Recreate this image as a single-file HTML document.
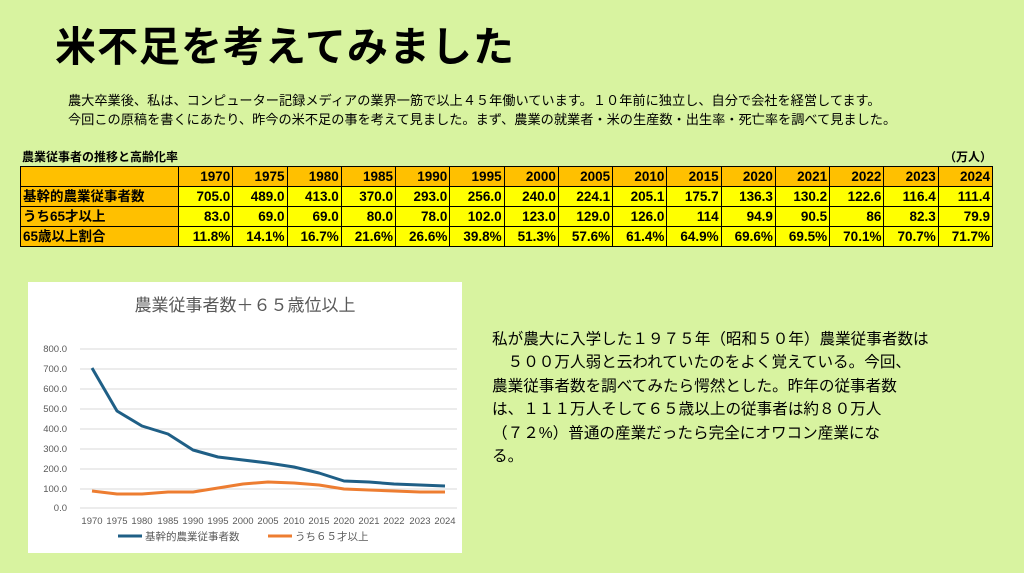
<!DOCTYPE html>
<html><head><meta charset="utf-8"><style>
body{margin:0;width:1024px;height:573px;background:#d8f3a0;font-family:"Liberation Sans","Noto Sans CJK JP",sans-serif;position:relative;overflow:hidden}
.t{position:absolute;white-space:nowrap}
table{position:absolute;left:20px;top:166px;width:973px;table-layout:fixed;border-collapse:collapse;font-weight:bold;font-size:13.5px}
td{border:1.5px solid #000;height:19px;line-height:19px;padding:0 2px;text-align:right;background:#ffff00;overflow:hidden;white-space:nowrap}
td.h{background:#ffc000;text-align:left}
tr.hd td{background:#ffc000;text-align:right}
</style></head><body>
<div class="t" style="left:55px;top:13px;font-size:41px;font-weight:bold;letter-spacing:1px">米不足を考えてみました</div>
<div class="t" style="left:68px;top:91px;font-size:13.2px;line-height:19px">農大卒業後、私は、コンピューター記録メディアの業界一筋で以上４５年働いています。１０年前に独立し、自分で会社を経営してます。<br>今回この原稿を書くにあたり、昨今の米不足の事を考えて見ました。まず、農業の就業者・米の生産数・出生率・死亡率を調べて見ました。</div>
<div class="t" style="left:22px;top:148px;font-size:12px;font-weight:bold">農業従事者の推移と高齢化率</div>
<div class="t" style="left:944px;top:148px;font-size:12px;font-weight:bold">（万人）</div>
<table>
<colgroup><col style="width:158px"><col span="15"></colgroup>
<tr class="hd"><td class="h"></td><td>1970</td><td>1975</td><td>1980</td><td>1985</td><td>1990</td><td>1995</td><td>2000</td><td>2005</td><td>2010</td><td>2015</td><td>2020</td><td>2021</td><td>2022</td><td>2023</td><td>2024</td></tr>
<tr><td class="h">基幹的農業従事者数</td><td>705.0</td><td>489.0</td><td>413.0</td><td>370.0</td><td>293.0</td><td>256.0</td><td>240.0</td><td>224.1</td><td>205.1</td><td>175.7</td><td>136.3</td><td>130.2</td><td>122.6</td><td>116.4</td><td>111.4</td></tr>
<tr><td class="h">うち65才以上</td><td>83.0</td><td>69.0</td><td>69.0</td><td>80.0</td><td>78.0</td><td>102.0</td><td>123.0</td><td>129.0</td><td>126.0</td><td>114</td><td>94.9</td><td>90.5</td><td>86</td><td>82.3</td><td>79.9</td></tr>
<tr><td class="h">65歳以上割合</td><td>11.8%</td><td>14.1%</td><td>16.7%</td><td>21.6%</td><td>26.6%</td><td>39.8%</td><td>51.3%</td><td>57.6%</td><td>61.4%</td><td>64.9%</td><td>69.6%</td><td>69.5%</td><td>70.1%</td><td>70.7%</td><td>71.7%</td></tr>
</table>
<svg style="position:absolute;left:0;top:0" width="1024" height="573">
<rect x="28" y="282" width="434" height="271" fill="#fff"/>
<text x="245" y="311" font-size="17" fill="#595959" text-anchor="middle" font-family="Liberation Sans,Noto Sans CJK JP,sans-serif">農業従事者数＋６５歳位以上</text>
<g stroke="#d9d9d9" stroke-width="1">
<line x1="80" x2="457" y1="349" y2="349"/><line x1="80" x2="457" y1="369" y2="369"/><line x1="80" x2="457" y1="389" y2="389"/><line x1="80" x2="457" y1="409" y2="409"/><line x1="80" x2="457" y1="429" y2="429"/><line x1="80" x2="457" y1="449" y2="449"/><line x1="80" x2="457" y1="469" y2="469"/><line x1="80" x2="457" y1="489" y2="489"/><line x1="80" x2="457" y1="508" y2="508"/>
</g>
<g font-size="9.5" fill="#595959" text-anchor="end" font-family="Liberation Sans,sans-serif">
<text x="67" y="352">800.0</text><text x="67" y="372">700.0</text><text x="67" y="392">600.0</text><text x="67" y="412">500.0</text><text x="67" y="432">400.0</text><text x="67" y="452">300.0</text><text x="67" y="472">200.0</text><text x="67" y="492">100.0</text><text x="67" y="511">0.0</text>
</g>
<g font-size="9.5" fill="#595959" text-anchor="middle" font-family="Liberation Sans,sans-serif">
<text x="92" y="524">1970</text><text x="117" y="524">1975</text><text x="142" y="524">1980</text><text x="168" y="524">1985</text><text x="193" y="524">1990</text><text x="218" y="524">1995</text><text x="243" y="524">2000</text><text x="268" y="524">2005</text><text x="294" y="524">2010</text><text x="319" y="524">2015</text><text x="344" y="524">2020</text><text x="369" y="524">2021</text><text x="394" y="524">2022</text><text x="420" y="524">2023</text><text x="445" y="524">2024</text>
</g>
<polyline fill="none" stroke="#1f5f86" stroke-width="3" stroke-linejoin="round" points="92,368 117,411 142,426 168,434 193,450 218,457 243,460 268,463 294,467 319,473 344,481 369,482 394,484 420,485 445,486"/>
<polyline fill="none" stroke="#ed7d31" stroke-width="3" stroke-linejoin="round" points="92,491 117,494 142,494 168,492 193,492 218,488 243,484 268,482 294,483 319,485 344,489 369,490 394,491 420,492 445,492"/>
<line x1="118" x2="142" y1="536" y2="536" stroke="#1f5f86" stroke-width="3"/>
<text x="145" y="540" font-size="10.5" fill="#595959" font-family="Liberation Sans,Noto Sans CJK JP,sans-serif">基幹的農業従事者数</text>
<line x1="268" x2="292" y1="536" y2="536" stroke="#ed7d31" stroke-width="3"/>
<text x="295" y="540" font-size="10.5" fill="#595959" font-family="Liberation Sans,Noto Sans CJK JP,sans-serif">うち６５才以上</text>
</svg>
<div class="t" style="left:492px;top:328px;font-size:15.6px;line-height:23.4px">私が農大に入学した１９７５年（昭和５０年）農業従事者数は<br>　５００万人弱と云われていたのをよく覚えている。今回、<br>農業従事者数を調べてみたら愕然とした。昨年の従事者数<br>は、１１１万人そして６５歳以上の従事者は約８０万人<br>（７２%）普通の産業だったら完全にオワコン産業にな<br>る。</div>
</body></html>
